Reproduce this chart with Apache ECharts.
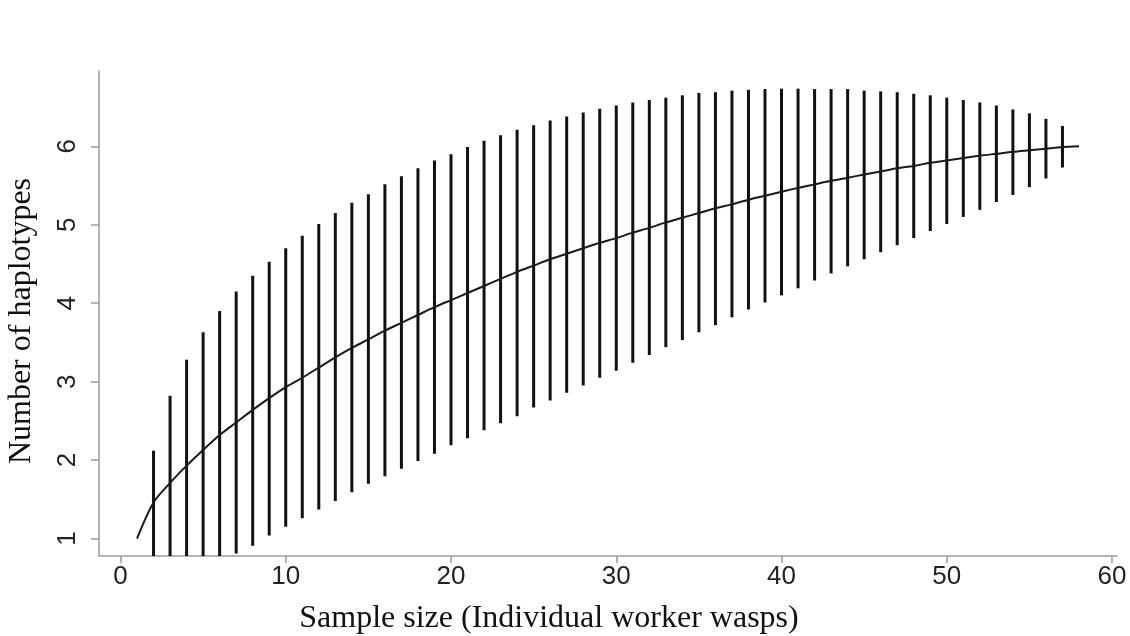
<!DOCTYPE html>
<html>
<head>
<meta charset="utf-8">
<title>Haplotype rarefaction curve</title>
<script src="https://cdn.jsdelivr.net/npm/echarts@6/dist/echarts.min.js"></script>
<style>
  html, body { margin: 0; padding: 0; background: #ffffff; }
  #chart { width: 1130px; height: 636px; }
</style>
</head>
<body>
<div id="chart"></div>
<script>
// Sample sizes (number of individual worker wasps sampled)
const sampleSizes = [
  1, 2, 3, 4, 5, 6, 7, 8, 9, 10, 11, 12, 13, 14, 15, 16, 17, 18, 19, 20,
  21, 22, 23, 24, 25, 26, 27, 28, 29, 30, 31, 32, 33, 34, 35, 36, 37, 38, 39, 40,
  41, 42, 43, 44, 45, 46, 47, 48, 49, 50, 51, 52, 53, 54, 55, 56, 57, 58
];

// Expected number of haplotypes at each sample size
const meanHaplotypes = [
  1.00, 1.46, 1.71, 1.93, 2.13, 2.32, 2.48, 2.64, 2.79, 2.93,
  3.05, 3.18, 3.31, 3.43, 3.54, 3.65, 3.75, 3.85, 3.95, 4.04,
  4.13, 4.22, 4.31, 4.40, 4.48, 4.56, 4.63, 4.70, 4.77, 4.83,
  4.90, 4.96, 5.03, 5.09, 5.15, 5.21, 5.26, 5.32, 5.37, 5.42,
  5.47, 5.515, 5.56, 5.60, 5.64, 5.68, 5.72, 5.75, 5.79, 5.82,
  5.85, 5.88, 5.905, 5.93, 5.95, 5.97, 5.99, 6.00
];

// Sample sizes that carry a confidence interval
const intervalSizes = [
  2, 3, 4, 5, 6, 7, 8, 9, 10, 11, 12, 13, 14, 15, 16, 17, 18, 19, 20,
  21, 22, 23, 24, 25, 26, 27, 28, 29, 30, 31, 32, 33, 34, 35, 36, 37, 38, 39, 40,
  41, 42, 43, 44, 45, 46, 47, 48, 49, 50, 51, 52, 53, 54, 55, 56, 57
];

// Upper confidence limit
const upperLimit = [
  2.12, 2.82, 3.28, 3.63, 3.90, 4.15, 4.35, 4.53, 4.70, 4.86,
  5.01, 5.15, 5.28, 5.39, 5.515, 5.62, 5.72, 5.82, 5.90, 5.99,
  6.07, 6.14, 6.21, 6.27, 6.33, 6.38, 6.43, 6.48, 6.52, 6.56,
  6.59, 6.62, 6.65, 6.68, 6.69, 6.71, 6.72, 6.73, 6.735, 6.735,
  6.73, 6.73, 6.73, 6.71, 6.70, 6.69, 6.67, 6.65, 6.62, 6.59,
  6.56, 6.52, 6.47, 6.42, 6.35, 6.26
];

// Lower confidence limit (the smallest samples run below the axis floor)
const lowerLimit = [
  0.77, 0.60, 0.58, 0.63, 0.74, 0.81, 0.91, 1.04, 1.15, 1.26,
  1.37, 1.48, 1.59, 1.70, 1.795, 1.89, 1.99, 2.08, 2.19, 2.28,
  2.38, 2.47, 2.56, 2.67, 2.76, 2.86, 2.95, 3.05, 3.14, 3.24,
  3.34, 3.44, 3.53, 3.63, 3.72, 3.82, 3.92, 4.01, 4.10, 4.19,
  4.29, 4.38, 4.47, 4.56, 4.65, 4.74, 4.83, 4.92, 5.01, 5.10,
  5.19, 5.29, 5.38, 5.48, 5.59, 5.73
];

// Tick labels
const xTicks = [0, 10, 20, 30, 40, 50, 60];
const yTicks = [1, 2, 3, 4, 5, 6];

const xTitle = 'Sample size (Individual worker wasps)';
const yTitle = 'Number of haplotypes';

const curveData = sampleSizes.map((n, i) => [n, meanHaplotypes[i]]);
const intervalData = intervalSizes.map((n, i) => [n, lowerLimit[i], upperLimit[i]]);

const axisGray = '#9a9a9a';
const tickFont = { fontFamily: 'Liberation Sans, Arial, sans-serif', fontSize: 26, color: '#222222' };

const chart = echarts.init(document.getElementById('chart'), null, { renderer: 'canvas' });

chart.setOption({
  backgroundColor: '#ffffff',
  animation: false,
  grid: { left: 99, right: 13, top: 71, bottom: 80, containLabel: false },
  xAxis: {
    type: 'value',
    min: -1.3,
    max: 60.3,
    splitLine: { show: false },
    axisLine: { show: true, onZero: false, lineStyle: { color: axisGray, width: 1.5 } },
    axisTick: { show: true, customValues: xTicks, length: 7, lineStyle: { color: axisGray, width: 1.5 } },
    axisLabel: Object.assign({ customValues: xTicks, margin: 8 }, tickFont)
  },
  yAxis: {
    type: 'value',
    min: 0.778,
    max: 6.96,
    splitLine: { show: false },
    axisLine: { show: true, onZero: false, lineStyle: { color: axisGray, width: 1.5 } },
    axisTick: { show: true, customValues: yTicks, length: 8, lineStyle: { color: axisGray, width: 1.5 } },
    axisLabel: Object.assign({ customValues: yTicks, rotate: 90, margin: 18 }, tickFont)
  },
  graphic: [
    {
      type: 'text',
      x: 549,
      y: 619,
      style: {
        text: xTitle,
        font: '32px "Liberation Serif", "Times New Roman", serif',
        fill: '#111111',
        align: 'center',
        verticalAlign: 'middle'
      }
    },
    {
      type: 'text',
      x: 22,
      y: 321,
      rotation: Math.PI / 2,
      style: {
        text: yTitle,
        font: '32px "Liberation Serif", "Times New Roman", serif',
        fill: '#111111',
        align: 'center',
        verticalAlign: 'middle'
      }
    }
  ],
  series: [
    {
      name: 'Confidence interval',
      type: 'custom',
      clip: true,
      data: intervalData,
      encode: { x: 0, y: [1, 2] },
      renderItem: function (params, api) {
        const n = api.value(0);
        const lo = api.coord([n, api.value(1)]);
        const hi = api.coord([n, api.value(2)]);
        return {
          type: 'line',
          shape: { x1: lo[0], y1: lo[1], x2: hi[0], y2: hi[1] },
          style: { stroke: '#111111', lineWidth: 3 }
        };
      },
      z: 2
    },
    {
      name: 'Expected haplotypes',
      type: 'line',
      data: curveData,
      showSymbol: false,
      smooth: 0.3,
      lineStyle: { color: '#1a1a1a', width: 2 },
      z: 3
    }
  ]
});
</script>
</body>
</html>
